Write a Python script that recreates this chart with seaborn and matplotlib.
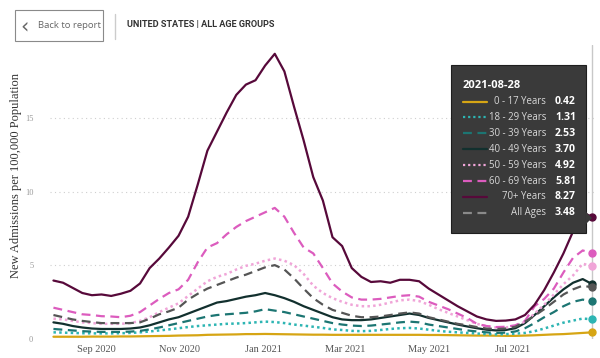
import numpy as np
import pandas as pd
import matplotlib
matplotlib.use('Agg')
import matplotlib.pyplot as plt
import matplotlib.dates as mdates
from matplotlib.patches import Rectangle, Polygon
from matplotlib.lines import Line2D
import seaborn as sns

# weekly values, 2020-08-01 .. 2021-08-28
dates = pd.date_range('2020-08-01', periods=57, freq='7D')

age_0_17 = [0.12, 0.12, 0.12, 0.12, 0.13, 0.13, 0.13, 0.14, 0.14, 0.15,
            0.16, 0.17, 0.18, 0.2, 0.21, 0.22, 0.25, 0.26, 0.27, 0.28,
            0.3, 0.3, 0.31, 0.3, 0.29, 0.28, 0.27, 0.26, 0.26, 0.25,
            0.25, 0.25, 0.25, 0.25, 0.25, 0.25, 0.25, 0.25, 0.25, 0.24,
            0.24, 0.23, 0.22, 0.21, 0.2, 0.2, 0.19, 0.18, 0.18, 0.2,
            0.22, 0.25, 0.28, 0.3, 0.34, 0.38, 0.42]
age_18_29 = [0.42, 0.4, 0.38, 0.36, 0.35, 0.35, 0.35, 0.36, 0.38, 0.42,
             0.48, 0.55, 0.62, 0.7, 0.78, 0.85, 0.9, 0.95, 1.0, 1.02,
             1.05, 1.1, 1.15, 1.12, 1.05, 0.95, 0.88, 0.8, 0.72, 0.62,
             0.58, 0.52, 0.5, 0.52, 0.58, 0.65, 0.7, 0.72, 0.68, 0.6,
             0.52, 0.46, 0.42, 0.38, 0.34, 0.3, 0.28, 0.3, 0.33, 0.38,
             0.5, 0.68, 0.88, 1.08, 1.22, 1.36, 1.31]
age_30_39 = [0.65, 0.6, 0.55, 0.5, 0.47, 0.45, 0.45, 0.45, 0.47, 0.52,
             0.62, 0.75, 0.9, 1.05, 1.2, 1.35, 1.5, 1.6, 1.65, 1.7,
             1.75, 1.85, 2.0, 1.9, 1.8, 1.65, 1.5, 1.35, 1.2, 1.05,
             0.95, 0.88, 0.85, 0.88, 0.95, 1.02, 1.1, 1.15, 1.1, 0.95,
             0.85, 0.75, 0.65, 0.55, 0.48, 0.42, 0.38, 0.4, 0.48, 0.7,
             1.05, 1.45, 1.8, 2.2, 2.5, 2.65, 2.53]
age_40_49 = [1.1, 1.0, 0.85, 0.75, 0.68, 0.65, 0.65, 0.65, 0.68, 0.75,
             0.9, 1.1, 1.3, 1.45, 1.7, 1.95, 2.2, 2.45, 2.55, 2.7,
             2.85, 2.95, 3.1, 2.95, 2.75, 2.5, 2.2, 1.95, 1.7, 1.45,
             1.3, 1.25, 1.25, 1.3, 1.4, 1.5, 1.6, 1.7, 1.6, 1.4,
             1.25, 1.1, 0.95, 0.82, 0.7, 0.6, 0.55, 0.58, 0.7, 1.05,
             1.6, 2.2, 2.8, 3.35, 3.8, 4.05, 3.70]
age_50_59 = [1.35, 1.3, 1.2, 1.1, 1.05, 1.0, 1.0, 1.0, 1.05, 1.2,
             1.45, 1.8, 2.1, 2.4, 2.9, 3.4, 3.9, 4.2, 4.4, 4.7,
             4.95, 5.1, 5.3, 5.45, 5.3, 5.0, 4.4, 3.6, 3.1, 2.75,
             2.5, 2.3, 2.2, 2.2, 2.3, 2.45, 2.6, 2.65, 2.55, 2.3,
             2.0, 1.75, 1.5, 1.25, 1.0, 0.85, 0.75, 0.75, 0.85, 1.15,
             1.7, 2.3, 3.0, 3.7, 4.3, 5.1, 4.92]
age_60_69 = [2.1, 1.95, 1.8, 1.65, 1.6, 1.52, 1.5, 1.45, 1.55, 1.8,
             2.25, 2.7, 3.1, 3.35, 4.0, 5.2, 6.2, 6.5, 7.1, 7.6,
             8.0, 8.3, 8.6, 8.9, 8.3, 7.2, 6.2, 5.8, 4.8, 3.75,
             3.2, 2.8, 2.65, 2.65, 2.7, 2.8, 2.9, 2.95, 2.85, 2.5,
             2.25, 2.0, 1.7, 1.4, 1.0, 0.85, 0.78, 0.8, 0.9, 1.2,
             2.2, 2.7, 3.4, 4.5, 5.5, 6.0, 5.81]
age_70 = [3.95, 3.8, 3.45, 3.1, 2.95, 3.0, 2.9, 3.05, 3.25, 3.75,
          4.8, 5.45, 6.2, 7.0, 8.3, 10.5, 12.8, 14.1, 15.4, 16.6,
          17.3, 17.6, 18.6, 19.4, 18.2, 15.8, 13.5, 11.0, 9.4, 6.9,
          6.3, 4.8, 4.2, 3.85, 3.9, 3.8, 4.0, 4.0, 3.9, 3.4,
          3.0, 2.6, 2.2, 1.85, 1.5, 1.3, 1.2, 1.22, 1.3, 1.6,
          2.3, 3.3, 4.5, 5.8, 7.3, 8.6, 8.27]
all_ages = [1.6, 1.45, 1.3, 1.2, 1.12, 1.05, 1.05, 1.05, 1.05, 1.1,
            1.35, 1.65, 1.85, 2.1, 2.65, 3.05, 3.4, 3.65, 3.9, 4.15,
            4.35, 4.6, 4.85, 5.0, 4.7, 4.1, 3.4, 2.75, 2.3, 1.95,
            1.75, 1.55, 1.45, 1.45, 1.5, 1.6, 1.7, 1.78, 1.7, 1.45,
            1.3, 1.15, 1.0, 0.9, 0.78, 0.68, 0.65, 0.68, 0.8, 1.15,
            1.55, 2.0, 2.5, 3.0, 3.35, 3.6, 3.48]

labels = ['0 - 17 Years', '18 - 29 Years', '30 - 39 Years', '40 - 49 Years',
          '50 - 59 Years', '60 - 69 Years', '70+ Years', 'All Ages']
series = [age_0_17, age_18_29, age_30_39, age_40_49,
          age_50_59, age_60_69, age_70, all_ages]
colors = ['#D6A514', '#2DB5B3', '#1C7572', '#12302E',
          '#F0A5D8', '#DC5CBE', '#57093A', '#555555']
styles = ['-', (0, (1, 1.3)), (0, (4, 2.5)), '-',
          (0, (1, 1.3)), (0, (4, 2.5)), '-', (0, (4, 2.5))]
widths = [1.6, 1.8, 1.6, 1.6, 1.8, 1.6, 1.6, 1.6]
draw_order = [0, 1, 2, 3, 4, 5, 7, 6]

sns.set_theme(style='white')
plt.rcParams['font.family'] = ['Liberation Serif', 'DejaVu Serif']

W, H = 600, 358
fig = plt.figure(figsize=(W / 100, H / 100), dpi=100)


def fx(x):
    return x / W


def fy(y):
    return 1 - y / H


ax = fig.add_axes([fx(50), fy(338.5), fx(547), (338.5 - 45) / H])

for i in draw_order:
    sns.lineplot(x=dates, y=series[i], ax=ax, color=colors[i],
                 linestyle=styles[i], linewidth=widths[i], zorder=3 + i)

# hover line and end markers
ax.axvline(dates[-1], color='#c8c8c8', linewidth=1, zorder=2)
for i in draw_order:
    ax.plot([dates[-1]], [series[i][-1]], 'o', color=colors[i],
            markersize=5, zorder=20, clip_on=False)

ax.set_xlim(dates[0] - pd.Timedelta(days=2.5), dates[-1] + pd.Timedelta(days=3.4))
ax.set_ylim(0, 20)
ax.set_yticks([0, 5, 10, 15])
ax.xaxis.set_major_locator(mdates.MonthLocator(bymonth=[1, 3, 5, 7, 9, 11]))
ax.xaxis.set_major_formatter(mdates.DateFormatter('%b %Y'))
ax.tick_params(axis='x', labelsize=7.5, labelcolor='#555555', length=0, pad=5)
ax.tick_params(axis='y', labelsize=6, labelcolor='#9a9a9a', length=0, pad=12)
ax.grid(axis='y', color='#cfcfcf', linestyle=(0, (1, 3)), linewidth=0.8)
ax.grid(axis='x', visible=False)
sns.despine(ax=ax, left=True, bottom=True)
ax.set_xlabel('')
ax.set_ylabel('New Admissions per 100,000 Population', fontsize=9,
              color='#333333')
ax.yaxis.set_label_coords((22 - 50) / 547, (fy(175) - fy(338.5)) / ((338.5 - 45) / H))

# header
fig.add_artist(Rectangle((fx(15), fy(41)), fx(88), 31 / H, transform=fig.transFigure,
                         facecolor='white', edgecolor='#8a8a8a', linewidth=0.8))
fig.text(fx(20), fy(26), '\u2039', fontsize=15, color='#666666', va='center',
         family=['DejaVu Sans'])
fig.text(fx(38), fy(26), 'Back to report', fontsize=6.8, color='#666666',
         va='center', family=['Open Sans', 'DejaVu Sans'])
fig.add_artist(Line2D([fx(115), fx(115)], [fy(14), fy(39)], transform=fig.transFigure,
                      color='#cccccc', linewidth=1))
fig.text(fx(127), fy(25), 'UNITED STATES | ALL AGE GROUPS', fontsize=6.6,
         color='#333333', va='center', fontweight='bold',
         family=['Roboto', 'DejaVu Sans'])

# tooltip
fig.add_artist(Rectangle((fx(451), fy(233)), fx(135), 168 / H, transform=fig.transFigure,
                         facecolor='#3a3a3a', edgecolor='#1e1e1e', linewidth=0.8,
                         zorder=30))
fig.add_artist(Polygon([(fx(586), fy(212)), (fx(592), fy(218)), (fx(586), fy(224))],
                       closed=True, transform=fig.transFigure, facecolor='#3a3a3a',
                       edgecolor='none', zorder=31))
tip_font = ['Open Sans', 'DejaVu Sans']
fig.text(fx(463), fy(85), '2021-08-28', fontsize=8, color='white',
         fontweight='bold', va='center', family=tip_font, zorder=32)
for row, i in enumerate(range(8)):
    y = 101.5 + row * 15.9
    fig.add_artist(Line2D([fx(463), fx(487)], [fy(y), fy(y)], transform=fig.transFigure,
                          color=colors[i] if i != 7 else '#8a8a8a',
                          linestyle=styles[i], linewidth=1.6, zorder=32))
    fig.text(fx(546), fy(y), labels[i], fontsize=6.9, color='#d8d8d8', ha='right',
             va='center', family=tip_font, zorder=32)
    fig.text(fx(555), fy(y), f'{series[i][-1]:.2f}', fontsize=7.6, color='white',
             fontweight='bold', ha='left', va='center', family=tip_font, zorder=32)

fig.savefig('out.png', dpi=100)
